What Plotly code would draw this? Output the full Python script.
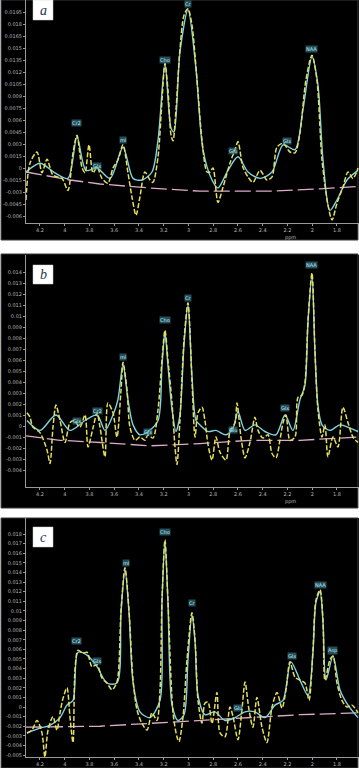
import plotly.graph_objects as go

# ---------------- shared x axis (ppm, reversed) ----------------
ppm_ticks = [4.2, 4.0, 3.8, 3.6, 3.4, 3.2, 3.0, 2.8, 2.6, 2.4, 2.2, 2.0, 1.8]
ppm_tick_labels = ["4.2", "4", "3.8", "3.6", "3.4", "3.2", "3", "2.8", "2.6", "2.4", "2.2", "2", "1.8"]

# ---------------- panel a ----------------
a_yellow_ppm = [4.313, 4.281, 4.224, 4.184, 4.143, 4.095, 4.022, 3.974, 3.933, 3.901, 3.861, 3.836, 3.804,
                3.772, 3.739, 3.699, 3.651, 3.610, 3.570, 3.529, 3.489, 3.457, 3.424, 3.392, 3.352, 3.311,
                3.287, 3.246, 3.214, 3.190, 3.166, 3.141, 3.125, 3.101, 3.069, 3.036, 3.004, 2.972, 2.931,
                2.891, 2.850, 2.826, 2.802, 2.762, 2.721, 2.665, 2.624, 2.600, 2.560, 2.519, 2.479, 2.422,
                2.366, 2.325, 2.285, 2.236, 2.180, 2.139, 2.099, 2.051, 2.002, 1.962, 1.921, 1.873, 1.840,
                1.800, 1.752, 1.711, 1.671, 1.630]
a_yellow_amp = [-0.0040, 0.0006, 0.0020, -0.0006, 0.0011, -0.0009, -0.0013, -0.0028, 0.0019, 0.0041, 0.0001,
                -0.0006, 0.0029, -0.0006, 0.0001, -0.0013, -0.0019, 0.0000, 0.0010, 0.0029, -0.0006, -0.0036,
                -0.0059, -0.0036, -0.0005, -0.0015, -0.0018, 0.0014, 0.0085, 0.0131, 0.0098, 0.0041, 0.0034,
                0.0073, 0.0148, 0.0191, 0.0199, 0.0179, 0.0110, 0.0035, -0.0005, -0.0005, 0.0000, -0.0043,
                -0.0024, 0.0006, 0.0023, 0.0033, 0.0001, -0.0011, -0.0018, -0.0003, -0.0015, -0.0011, 0.0026,
                0.0031, 0.0020, 0.0019, 0.0044, 0.0110, 0.0141, 0.0110, 0.0010, -0.0046, -0.0065, -0.0044,
                -0.0024, -0.0005, -0.0013, 0.0000]
a_cyan_ppm = [4.313, 4.200, 4.079, 3.974, 3.901, 3.828, 3.739, 3.634, 3.529, 3.448, 3.376, 3.295, 3.246,
              3.190, 3.141, 3.117, 3.069, 3.004, 2.939, 2.883, 2.810, 2.762, 2.681, 2.600, 2.519, 2.422,
              2.325, 2.236, 2.139, 2.075, 2.002, 1.954, 1.913, 1.857, 1.800, 1.719, 1.630]
a_cyan_amp = [-0.0005, 0.0006, -0.0006, -0.0013, 0.0039, -0.0003, 0.0000, -0.0013, 0.0026, -0.0013, -0.0015,
              -0.0005, 0.0035, 0.0130, 0.0050, 0.0045, 0.0145, 0.0198, 0.0123, 0.0023, -0.0015, -0.0025,
              -0.0003, 0.0014, -0.0005, -0.0013, -0.0005, 0.0029, 0.0023, 0.0073, 0.0139, 0.0104, 0.0010,
              -0.0053, -0.0040, -0.0015, -0.0003]
a_base_ppm = [4.313, 3.958, 3.715, 3.311, 2.907, 2.341, 1.937, 1.622]
a_base_amp = [-0.0005, -0.0015, -0.0020, -0.0025, -0.0029, -0.0029, -0.0026, -0.0023]
a_label_ppm = [3.901, 3.739, 3.529, 3.190, 3.004, 2.640, 2.204, 2.002]
a_label_amp = [0.0054, 0.0000, 0.0033, 0.0133, 0.0203, 0.0019, 0.0031, 0.0146]
a_label_txt = ["Cr2", "Glx", "mI", "Cho", "Cr", "Glu", "Glx", "NAA"]
a_yticks = [-0.006, -0.0045, -0.003, -0.0015, 0, 0.0015, 0.003, 0.0045, 0.006, 0.0075, 0.009,
            0.0105, 0.012, 0.0135, 0.015, 0.0165, 0.018, 0.0195]

# ---------------- panel b ----------------
b_yellow_ppm = [4.305, 4.281, 4.257, 4.200, 4.143, 4.119, 4.095, 4.071, 4.038, 3.998, 3.958, 3.925, 3.877,
                3.836, 3.812, 3.772, 3.739, 3.715, 3.675, 3.651, 3.610, 3.578, 3.545, 3.529, 3.497, 3.473,
                3.432, 3.392, 3.352, 3.327, 3.287, 3.246, 3.214, 3.190, 3.166, 3.133, 3.109, 3.093, 3.069,
                3.036, 3.004, 2.972, 2.947, 2.923, 2.891, 2.867, 2.842, 2.810, 2.778, 2.745, 2.697, 2.665,
                2.624, 2.608, 2.576, 2.543, 2.503, 2.463, 2.438, 2.398, 2.358, 2.325, 2.293, 2.261, 2.236,
                2.212, 2.180, 2.139, 2.115, 2.083, 2.059, 2.034, 2.002, 1.978, 1.954, 1.921, 1.897, 1.873,
                1.832, 1.792, 1.752, 1.711, 1.671, 1.630]
b_yellow_amp = [0.0012, 0.0008, -0.0001, -0.0006, -0.0022, -0.0034, -0.0001, 0.0019, 0.0005, -0.0015, 0.0003,
                0.0005, -0.0001, 0.0010, -0.0019, -0.0002, 0.0012, -0.0001, -0.0028, 0.0021, 0.0012, -0.0010,
                0.0033, 0.0058, 0.0033, -0.0001, -0.0013, -0.0010, -0.0013, -0.0008, -0.0011, 0.0015, 0.0060,
                0.0087, 0.0060, 0.0021, -0.0019, -0.0035, 0.0005, 0.0078, 0.0112, 0.0042, -0.0010, 0.0012,
                0.0017, 0.0005, -0.0017, -0.0031, -0.0010, -0.0024, -0.0031, -0.0005, 0.0003, 0.0021, -0.0010,
                -0.0029, -0.0015, 0.0008, -0.0004, -0.0011, -0.0008, -0.0025, -0.0029, -0.0013, 0.0003, 0.0010,
                -0.0013, -0.0010, 0.0026, 0.0028, 0.0039, 0.0096, 0.0139, 0.0069, 0.0015, -0.0010, 0.0001,
                -0.0028, -0.0010, -0.0019, 0.0017, 0.0003, -0.0010, -0.0015]
b_cyan_ppm = [4.305, 4.200, 4.071, 3.958, 3.836, 3.739, 3.675, 3.610, 3.570, 3.529, 3.489, 3.448, 3.392,
              3.327, 3.246, 3.214, 3.190, 3.166, 3.133, 3.101, 3.069, 3.036, 3.004, 2.972, 2.939, 2.907,
              2.842, 2.778, 2.697, 2.640, 2.600, 2.543, 2.463, 2.382, 2.293, 2.220, 2.156, 2.099, 2.059,
              2.034, 2.002, 1.978, 1.954, 1.921, 1.857, 1.776, 1.695, 1.630]
b_cyan_amp = [0.0005, -0.0004, 0.0010, -0.0004, 0.0005, 0.0010, -0.0004, 0.0010, 0.0024, 0.0056, 0.0024,
              0.0001, -0.0008, -0.0005, 0.0005, 0.0055, 0.0085, 0.0055, 0.0015, -0.0005, 0.0010, 0.0074,
              0.0110, 0.0046, 0.0005, 0.0001, -0.0005, -0.0004, -0.0008, -0.0002, 0.0013, -0.0004, 0.0001,
              -0.0005, -0.0008, 0.0010, -0.0004, 0.0024, 0.0037, 0.0095, 0.0137, 0.0067, 0.0019, 0.0001,
              -0.0004, 0.0001, -0.0002, -0.0005]
b_base_ppm = [4.313, 4.038, 3.715, 3.311, 2.907, 2.503, 2.099, 1.622]
b_base_amp = [-0.0009, -0.0013, -0.0015, -0.0018, -0.0016, -0.0013, -0.0013, -0.0010]
b_label_ppm = [3.901, 3.739, 3.529, 3.327, 3.190, 3.004, 2.640, 2.220, 2.002]
b_label_amp = [0.0003, 0.0012, 0.0061, -0.0007, 0.0095, 0.0115, -0.0005, 0.0015, 0.0145]
b_label_txt = ["Glx", "Cr2", "mI", "Glx", "Cho", "Cr", "Glu", "Glx", "NAA"]
b_yticks = [-0.004, -0.003, -0.002, -0.001, 0, 0.001, 0.002, 0.003, 0.004, 0.005, 0.006, 0.007,
            0.008, 0.009, 0.010, 0.011, 0.012, 0.013, 0.014]

# ---------------- panel c ----------------
c_yellow_ppm = [4.305, 4.265, 4.224, 4.184, 4.160, 4.135, 4.095, 4.063, 4.038, 4.014, 3.982, 3.958, 3.933,
                3.917, 3.893, 3.853, 3.820, 3.780, 3.739, 3.699, 3.659, 3.618, 3.578, 3.545, 3.513, 3.481,
                3.448, 3.416, 3.376, 3.335, 3.295, 3.255, 3.230, 3.214, 3.190, 3.166, 3.125, 3.093, 3.077,
                3.044, 3.012, 2.972, 2.947, 2.923, 2.891, 2.867, 2.842, 2.810, 2.770, 2.745, 2.705, 2.665,
                2.640, 2.600, 2.568, 2.543, 2.511, 2.479, 2.447, 2.406, 2.366, 2.325, 2.285, 2.244, 2.212,
                2.180, 2.139, 2.099, 2.059, 2.026, 1.994, 1.970, 1.937, 1.913, 1.897, 1.857, 1.832, 1.800,
                1.760, 1.719, 1.679, 1.630]
c_yellow_amp = [-0.0027, -0.0024, -0.0014, -0.0027, -0.0052, -0.0024, -0.0010, -0.0024, -0.0006, 0.0009,
                0.0020, -0.0010, -0.0037, 0.0039, 0.0059, 0.0056, 0.0057, 0.0042, 0.0044, 0.0030, 0.0025,
                0.0018, 0.0026, 0.0101, 0.0145, 0.0101, 0.0028, -0.0003, -0.0017, -0.0024, -0.0006, -0.0014,
                0.0018, 0.0111, 0.0174, 0.0111, -0.0006, -0.0031, -0.0036, -0.0010, 0.0049, 0.0098, 0.0070,
                0.0007, -0.0017, 0.0004, 0.0005, -0.0017, 0.0015, -0.0027, -0.0031, 0.0000, -0.0010, -0.0034,
                -0.0003, 0.0026, -0.0003, -0.0021, 0.0010, -0.0021, -0.0037, 0.0000, 0.0015, -0.0001, 0.0018,
                0.0047, 0.0031, 0.0028, 0.0025, 0.0007, 0.0059, 0.0111, 0.0122, 0.0091, 0.0028, 0.0049,
                0.0053, 0.0025, 0.0007, 0.0000, 0.0002, -0.0006]
c_cyan_ppm = [4.305, 4.200, 4.119, 4.038, 3.982, 3.933, 3.893, 3.820, 3.739, 3.659, 3.578, 3.545, 3.513,
              3.481, 3.448, 3.392, 3.311, 3.230, 3.214, 3.190, 3.166, 3.133, 3.085, 3.036, 3.004, 2.972,
              2.947, 2.923, 2.867, 2.786, 2.705, 2.624, 2.543, 2.463, 2.382, 2.301, 2.236, 2.172, 2.099,
              2.034, 1.994, 1.970, 1.937, 1.913, 1.889, 1.832, 1.776, 1.711, 1.630]
c_cyan_amp = [-0.0027, -0.0022, -0.0019, -0.0011, 0.0002, 0.0007, 0.0057, 0.0054, 0.0042, 0.0025, 0.0025,
              0.0099, 0.0143, 0.0099, 0.0026, -0.0005, -0.0011, 0.0007, 0.0109, 0.0172, 0.0109, 0.0002,
              -0.0014, -0.0008, 0.0049, 0.0096, 0.0068, 0.0012, -0.0008, -0.0005, -0.0014, -0.0011, -0.0005,
              -0.0005, -0.0011, 0.0002, 0.0007, 0.0047, 0.0028, 0.0012, 0.0057, 0.0109, 0.0120, 0.0088,
              0.0028, 0.0053, 0.0018, 0.0002, -0.0011]
c_base_ppm = [4.313, 3.715, 3.311, 2.907, 2.503, 2.099, 1.622]
c_base_amp = [-0.0021, -0.0020, -0.0017, -0.0014, -0.0011, -0.0008, -0.0006]
c_label_ppm = [3.901, 3.739, 3.505, 3.190, 2.972, 2.600, 2.164, 1.937, 1.840]
c_label_amp = [0.0067, 0.0046, 0.0148, 0.0180, 0.0106, -0.0003, 0.0051, 0.0125, 0.0057]
c_label_txt = ["Cr2", "Glx", "mI", "Cho", "Cr", "Glu", "Glx", "NAA", "Asp"]
c_yticks = [-0.005, -0.004, -0.003, -0.002, -0.001, 0, 0.001, 0.002, 0.003, 0.004, 0.005, 0.006,
            0.007, 0.008, 0.009, 0.010, 0.011, 0.012, 0.013, 0.014, 0.015, 0.016, 0.017, 0.018]

panel_letters = ["a", "b", "c"]

# ---------------- layout geometry (pixels) ----------------
W, H = 359, 768
X_LEFT = 26
panels = [
    dict(top=0, bottom=223, bg=(0, 240), yr=[-0.006875, 0.021], box=(0, 20), unit=True,
         yl=a_yellow_ppm, ya=a_yellow_amp, cl=a_cyan_ppm, ca=a_cyan_amp,
         bl=a_base_ppm, ba=a_base_amp, lp=a_label_ppm, la=a_label_amp, lt=a_label_txt, yt=a_yticks),
    dict(top=255, bottom=487, bg=(254, 508), yr=[-0.005545, 0.015545], box=(265, 284), unit=True,
         yl=b_yellow_ppm, ya=b_yellow_amp, cl=b_cyan_ppm, ca=b_cyan_amp,
         bl=b_base_ppm, ba=b_base_amp, lp=b_label_ppm, la=b_label_amp, lt=b_label_txt, yt=b_yticks),
    dict(top=518, bottom=757, bg=(518, 768), yr=[-0.0052, 0.01967], box=(527, 547), unit=False,
         yl=c_yellow_ppm, ya=c_yellow_amp, cl=c_cyan_ppm, ca=c_cyan_amp,
         bl=c_base_ppm, ba=c_base_amp, lp=c_label_ppm, la=c_label_amp, lt=c_label_txt, yt=c_yticks),
]

def py(p):
    return 1 - p / H

fig = go.Figure()
shapes = []
annotations = []
layout = {}

for i, p in enumerate(panels):
    n = "" if i == 0 else str(i + 1)
    xa, ya_ = "x" + n, "y" + n
    # background block of panel
    shapes.append(dict(type="rect", xref="paper", yref="paper", x0=0.003, x1=0.997,
                       y0=py(p["bg"][1]), y1=py(p["bg"][0]), fillcolor="black",
                       line=dict(color="#3a3a3a", width=1), layer="below"))
    fig.add_trace(go.Scatter(x=p["bl"], y=p["ba"], mode="lines", xaxis=xa, yaxis=ya_,
                             line=dict(color="#dcaccb", width=1.3, dash="16px,5px"),
                             hoverinfo="skip", showlegend=False))
    fig.add_trace(go.Scatter(x=p["cl"], y=p["ca"], mode="lines", xaxis=xa, yaxis=ya_,
                             line=dict(color="#7fd4e4", width=1.4, shape="spline", smoothing=0.8),
                             hoverinfo="skip", showlegend=False))
    fig.add_trace(go.Scatter(x=p["yl"], y=p["ya"], mode="lines", xaxis=xa, yaxis=ya_,
                             line=dict(color="#e4df5c", width=1.5, shape="spline", smoothing=0.8,
                                       dash="5px,2px"),
                             hoverinfo="skip", showlegend=False))
    for xv, yv, t in zip(p["lp"], p["la"], p["lt"]):
        annotations.append(dict(x=xv, y=yv, xref=xa, yref=ya_, text=t, showarrow=False,
                                xanchor="center", yanchor="middle",
                                font=dict(size=5, color="#b6eefa", family="DejaVu Sans"),
                                bgcolor="rgba(70,140,160,0.55)", borderpad=0, yshift=2))
    layout["xaxis" + n] = dict(domain=[X_LEFT / W, 1], anchor=ya_, range=[4.313, 1.622],
                               tickvals=ppm_ticks, ticktext=ppm_tick_labels,
                               showgrid=False, zeroline=False, showline=True,
                               linecolor="#9a9a9a", linewidth=1, ticks="outside", ticklen=2,
                               tickcolor="#9a9a9a",
                               tickfont=dict(size=5, color="#b8b8b8", family="DejaVu Sans"))
    layout["yaxis" + n] = dict(domain=[py(p["bottom"]), py(p["top"])], anchor=xa, range=p["yr"],
                               tickvals=p["yt"], ticktext=[f"{v:g}" for v in p["yt"]],
                               showgrid=False, zeroline=False, showline=True,
                               linecolor="#9a9a9a", linewidth=1, ticks="outside", ticklen=2,
                               tickcolor="#9a9a9a",
                               tickfont=dict(size=5, color="#b8b8b8", family="DejaVu Sans"))
    # panel letter box
    shapes.append(dict(type="rect", xref="paper", yref="paper", x0=33 / W, x1=53 / W,
                       y0=py(p["box"][1]), y1=py(p["box"][0]), fillcolor="white",
                       line=dict(color="#cccccc", width=0.5)))
    annotations.append(dict(x=43 / W, y=py((p["box"][0] + p["box"][1]) / 2), xref="paper", yref="paper",
                            xanchor="center", yanchor="middle",
                            text="<i>" + panel_letters[i] + "</i>", showarrow=False,
                            font=dict(size=14, color="#2a3550", family="Liberation Serif")))
    # axis unit (panel c's is cut off by the image edge in the reference)
    if p["unit"]:
        annotations.append(dict(x=290 / W, y=py(p["bottom"] + 14), xref="paper", yref="paper",
                                xanchor="center", yanchor="middle",
                                text="ppm", showarrow=False,
                                font=dict(size=5, color="#b8b8b8", family="DejaVu Sans")))

fig.update_layout(width=W, height=H, margin=dict(l=0, r=0, t=0, b=0),
                  paper_bgcolor="white", plot_bgcolor="black",
                  shapes=shapes, annotations=annotations, **layout)

fig.write_html("out.html", config={"displayModeBar": False})
